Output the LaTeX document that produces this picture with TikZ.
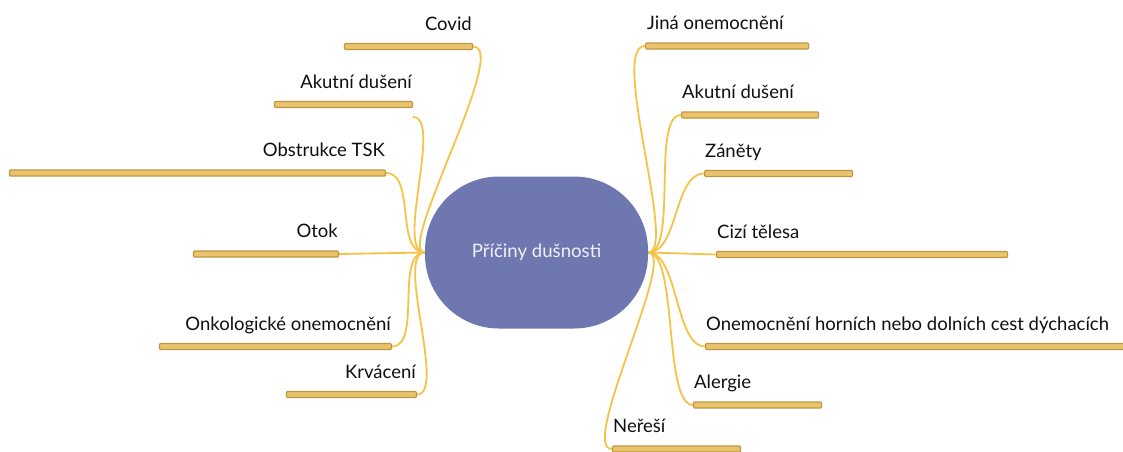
\documentclass[tikz,border=0pt]{standalone}
\usepackage{fontspec}
\setmainfont{Lato}
\definecolor{rootfill}{RGB}{110,119,176}
\definecolor{rootink}{RGB}{240,241,248}
\definecolor{barfill}{RGB}{233,196,108}
\definecolor{barline}{RGB}{190,150,66}
\definecolor{wire}{RGB}{245,196,70}
\definecolor{ink}{RGB}{15,15,15}
\pgfdeclarelayer{paper}
\pgfdeclarelayer{wires}
\pgfsetlayers{paper,wires,main}
\begin{document}
\begin{tikzpicture}[x=1pt,y=-1pt,
  rootnode/.style={fill=rootfill, text=rootink, rounded corners=74pt,
    minimum width=223pt, minimum height=152pt, inner sep=0pt,
    font=\fontsize{18.6}{21}\selectfont},
  bar/.style={draw=barline, fill=barfill, line width=1.2pt, rounded corners=1pt,
    minimum height=6pt, inner sep=0pt},
  lbl/.style={text=ink, inner sep=0pt, font=\fontsize{18.5}{21}\selectfont},
  wirel/.style={draw=wire, line width=1.8pt},
]
\clip (0,0) rectangle (1123,451);
\begin{pgfonlayer}{paper}
\fill[white] (0,0) rectangle (1123,451);
\end{pgfonlayer}

% central topic
\node[rootnode] (root) at (536.5,252.5) {Příčiny dušnosti};

% left branches: bars anchored at their inner (right) end
\node[bar, minimum width=128pt, anchor=east] (covid) at (473,46.5) {};
\node[bar, minimum width=138pt, anchor=east] (akl)   at (413,104.5) {};
\node[bar, minimum width=376pt, anchor=east] (obs)   at (386,173) {};
\node[bar, minimum width=145pt, anchor=east] (otok)  at (339,254) {};
\node[bar, minimum width=232pt, anchor=east] (onko)  at (392,346.5) {};
\node[bar, minimum width=130pt, anchor=east] (krv)   at (417,394.5) {};

\node[lbl, anchor=base east] (covidt) at (472,30)    {Covid};
\node[lbl, anchor=base east] (aklt)   at (412,88)    {Akutní dušení};
\node[lbl, anchor=base east] (obst)   at (385,156.5) {Obstrukce TSK};
\node[lbl, anchor=base east] (otokt)  at (338,237.5) {Otok};
\node[lbl, anchor=base east] (onkot)  at (391,330)   {Onkologické onemocnění};
\node[lbl, anchor=base east] (krvt)   at (416,378)   {Krvácení};

% right branches: bars anchored at their inner (left) end
\node[bar, minimum width=163pt, anchor=west] (jina)   at (645,46) {};
\node[bar, minimum width=137pt, anchor=west] (akr)    at (681,115) {};
\node[bar, minimum width=148pt, anchor=west] (zan)    at (704,173.5) {};
\node[bar, minimum width=291pt, anchor=west] (cizi)   at (716,254.5) {};
\node[bar, minimum width=430pt, anchor=west] (onem)   at (705,346.5) {};
\node[bar, minimum width=128pt, anchor=west] (alerg)  at (693,405) {};
\node[bar, minimum width=128pt, anchor=west] (neresi) at (612,449) {};

\node[lbl, anchor=base west] (jinat)   at (647,29.5)  {Jiná onemocnění};
\node[lbl, anchor=base west] (akrt)    at (682,98.5)  {Akutní dušení};
\node[lbl, anchor=base west] (zant)    at (705,157)   {Záněty};
\node[lbl, anchor=base west] (cizit)   at (717,238)   {Cizí tělesa};
\node[lbl, anchor=base west] (onemt)   at (706,330)   {Onemocnění horních nebo dolních cest dýchacích};
\node[lbl, anchor=base west] (alergt)  at (694,388.5) {Alergie};
\node[lbl, anchor=base west] (neresit) at (613,432.5) {Neřeší};

% loose end of the left "Akutní dušení" branch
\coordinate (aklend) at (413,117);

% connectors sit beneath the topic and the bars
\begin{pgfonlayer}{wires}
\draw[wirel] (covid.east) .. controls +(38,0) and +(-30,0) .. (root.west);
\draw[wirel] (aklend) .. controls +(30,0) and +(-30,0) .. (root.west);
\draw[wirel] (obs.east) .. controls +(30,0) and +(-30,0) .. (root.west);
\draw[wirel] (otok.east) -- (root.west);
\draw[wirel] (onko.east) .. controls +(30,0) and +(-30,0) .. (root.west);
\draw[wirel] (krv.east) .. controls +(30,0) and +(-30,0) .. (root.west);
\draw[wirel] (jina.west) .. controls +(-36,0) and +(30,0) .. (root.east);
\draw[wirel] (akr.west) .. controls +(-30,0) and +(30,0) .. (root.east);
\draw[wirel] (zan.west) .. controls +(-30,0) and +(30,0) .. (root.east);
\draw[wirel] (cizi.west) -- (root.east);
\draw[wirel] (onem.west) .. controls +(-30,0) and +(30,0) .. (root.east);
\draw[wirel] (alerg.west) .. controls +(-30,0) and +(30,0) .. (root.east);
\draw[wirel] (neresi.west) .. controls +(-34,0) and +(30,0) .. (root.east);
\end{pgfonlayer}
\end{tikzpicture}
\end{document}
